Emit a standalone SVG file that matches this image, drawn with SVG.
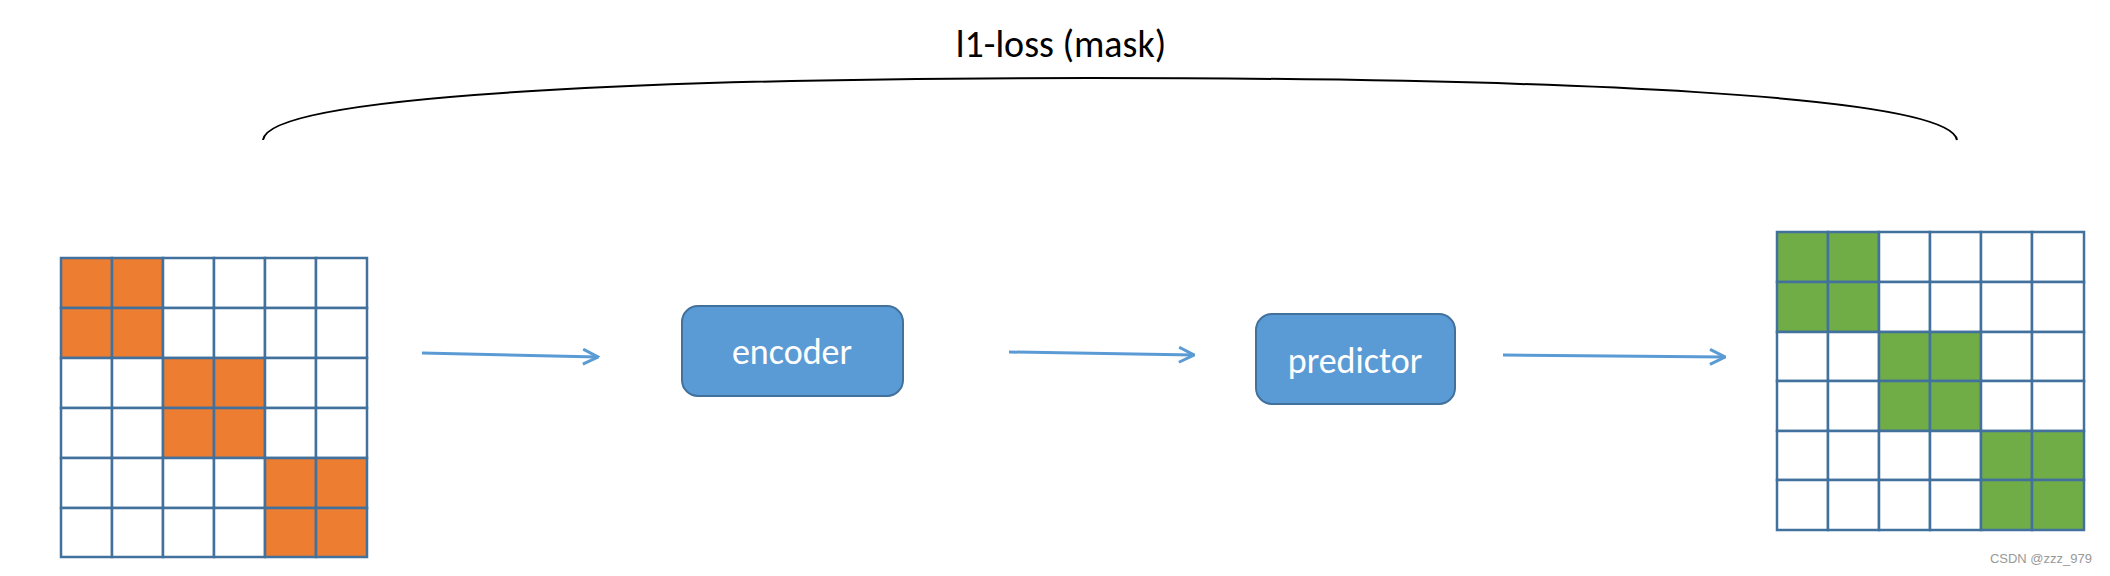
<svg xmlns="http://www.w3.org/2000/svg" width="2110" height="576" viewBox="0 0 2110 576">
<defs>
<style>
.g rect{stroke:#41719C;stroke-width:2.5}
.o{fill:#ED7D31}.gr{fill:#70AD47}.w{fill:#fff}
.box{fill:#5B9BD5;stroke:#41719C;stroke-width:2}
.t{font-family:Carlito,'Liberation Sans',sans-serif;fill:#fff;font-size:36px;text-anchor:middle}
.c line{stroke:#5B9BD5;stroke-width:3;marker-end:url(#a)}
</style>
<marker id="a" viewBox="0 0 12 12" refX="11" refY="6" markerWidth="6" markerHeight="6" orient="auto" markerUnits="strokeWidth"><path d="M1,1 L11,6 L1,11" fill="none" stroke="#5B9BD5" stroke-width="2"/></marker>
</defs>
<rect width="2110" height="576" fill="#fff"/>
<g id="input" class="g">
<rect x="61" y="258" width="51" height="50" class="o"/><rect x="112" y="258" width="51" height="50" class="o"/><rect x="163" y="258" width="51" height="50" class="w"/><rect x="214" y="258" width="51" height="50" class="w"/><rect x="265" y="258" width="51" height="50" class="w"/><rect x="316" y="258" width="51" height="50" class="w"/>
<rect x="61" y="308" width="51" height="50" class="o"/><rect x="112" y="308" width="51" height="50" class="o"/><rect x="163" y="308" width="51" height="50" class="w"/><rect x="214" y="308" width="51" height="50" class="w"/><rect x="265" y="308" width="51" height="50" class="w"/><rect x="316" y="308" width="51" height="50" class="w"/>
<rect x="61" y="358" width="51" height="50" class="w"/><rect x="112" y="358" width="51" height="50" class="w"/><rect x="163" y="358" width="51" height="50" class="o"/><rect x="214" y="358" width="51" height="50" class="o"/><rect x="265" y="358" width="51" height="50" class="w"/><rect x="316" y="358" width="51" height="50" class="w"/>
<rect x="61" y="408" width="51" height="50" class="w"/><rect x="112" y="408" width="51" height="50" class="w"/><rect x="163" y="408" width="51" height="50" class="o"/><rect x="214" y="408" width="51" height="50" class="o"/><rect x="265" y="408" width="51" height="50" class="w"/><rect x="316" y="408" width="51" height="50" class="w"/>
<rect x="61" y="458" width="51" height="50" class="w"/><rect x="112" y="458" width="51" height="50" class="w"/><rect x="163" y="458" width="51" height="50" class="w"/><rect x="214" y="458" width="51" height="50" class="w"/><rect x="265" y="458" width="51" height="50" class="o"/><rect x="316" y="458" width="51" height="50" class="o"/>
<rect x="61" y="508" width="51" height="49" class="w"/><rect x="112" y="508" width="51" height="49" class="w"/><rect x="163" y="508" width="51" height="49" class="w"/><rect x="214" y="508" width="51" height="49" class="w"/><rect x="265" y="508" width="51" height="49" class="o"/><rect x="316" y="508" width="51" height="49" class="o"/>
</g>
<g id="output" class="g">
<rect x="1777" y="232" width="51" height="50" class="gr"/><rect x="1828" y="232" width="51" height="50" class="gr"/><rect x="1879" y="232" width="51" height="50" class="w"/><rect x="1930" y="232" width="51" height="50" class="w"/><rect x="1981" y="232" width="51" height="50" class="w"/><rect x="2032" y="232" width="52" height="50" class="w"/>
<rect x="1777" y="282" width="51" height="50" class="gr"/><rect x="1828" y="282" width="51" height="50" class="gr"/><rect x="1879" y="282" width="51" height="50" class="w"/><rect x="1930" y="282" width="51" height="50" class="w"/><rect x="1981" y="282" width="51" height="50" class="w"/><rect x="2032" y="282" width="52" height="50" class="w"/>
<rect x="1777" y="332" width="51" height="49" class="w"/><rect x="1828" y="332" width="51" height="49" class="w"/><rect x="1879" y="332" width="51" height="49" class="gr"/><rect x="1930" y="332" width="51" height="49" class="gr"/><rect x="1981" y="332" width="51" height="49" class="w"/><rect x="2032" y="332" width="52" height="49" class="w"/>
<rect x="1777" y="381" width="51" height="50" class="w"/><rect x="1828" y="381" width="51" height="50" class="w"/><rect x="1879" y="381" width="51" height="50" class="gr"/><rect x="1930" y="381" width="51" height="50" class="gr"/><rect x="1981" y="381" width="51" height="50" class="w"/><rect x="2032" y="381" width="52" height="50" class="w"/>
<rect x="1777" y="431" width="51" height="49" class="w"/><rect x="1828" y="431" width="51" height="49" class="w"/><rect x="1879" y="431" width="51" height="49" class="w"/><rect x="1930" y="431" width="51" height="49" class="w"/><rect x="1981" y="431" width="51" height="49" class="gr"/><rect x="2032" y="431" width="52" height="49" class="gr"/>
<rect x="1777" y="480" width="51" height="50" class="w"/><rect x="1828" y="480" width="51" height="50" class="w"/><rect x="1879" y="480" width="51" height="50" class="w"/><rect x="1930" y="480" width="51" height="50" class="w"/><rect x="1981" y="480" width="51" height="50" class="gr"/><rect x="2032" y="480" width="52" height="50" class="gr"/>
</g>
<g id="encoder"><rect class="box" x="682" y="306" width="221" height="90" rx="16"/><text class="t" x="792" y="364">encoder</text></g>
<g id="predictor"><rect class="box" x="1256" y="314" width="199" height="90" rx="16"/><text class="t" x="1355" y="373">predictor</text></g>
<g id="connectors" class="c">
<line x1="422" y1="353" x2="598" y2="357"/>
<line x1="1009" y1="352" x2="1194" y2="355"/>
<line x1="1503" y1="355" x2="1725" y2="357"/>
<path d="M263,140 C268,92 700,78 1090,78 C1560,78 1950,95 1957,140" fill="none" stroke="#000" stroke-width="2"/>
</g>
<text x="1061" y="57" font-family="Carlito,'Liberation Sans',sans-serif" font-size="38" text-anchor="middle" fill="#000">l1-loss (mask)</text>
<text x="2092" y="563" font-family="'Liberation Sans',sans-serif" font-size="13" text-anchor="end" fill="#999">CSDN @zzz_979</text>
</svg>
